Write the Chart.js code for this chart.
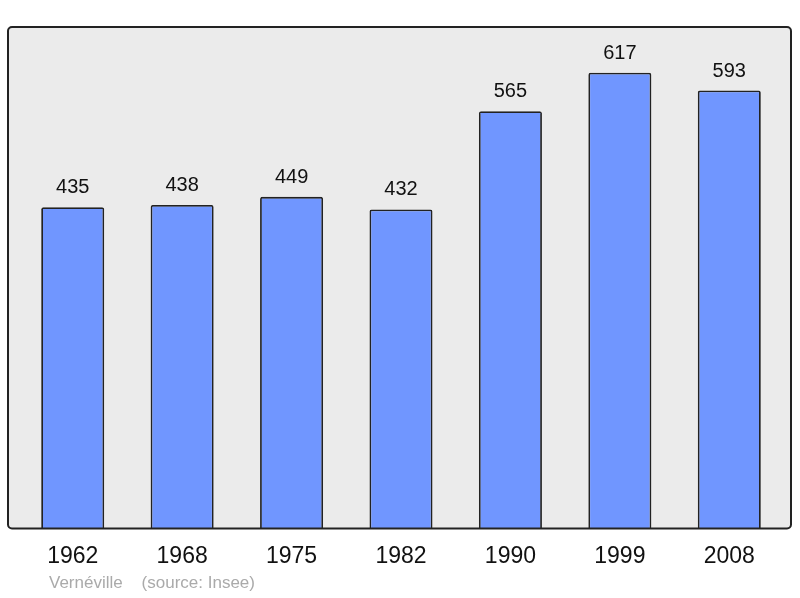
<!DOCTYPE html>
<html>
<head>
<meta charset="utf-8">
<script src="https://cdn.jsdelivr.net/npm/chart.js@4/dist/chart.umd.min.js"></script>
<style>
  html, body { margin: 0; padding: 0; background: #fff; }
  #wrap { width: 800px; height: 598px; position: relative; }
</style>
</head>
<body>
<div id="wrap"><canvas id="popChart"></canvas></div>
<script>
const years = ["1962", "1968", "1975", "1982", "1990", "1999", "2008"];
const population = [435, 438, 449, 432, 565, 617, 593];
const yMax = 679;
const footText = "Vernéville    (source: Insee)";

const FONT = "'Liberation Sans', Arial, sans-serif";

// grey panel with dark rounded border behind the bars
const panelPlugin = {
  id: "panel",
  beforeDraw(chart) {
    const { ctx, chartArea: a } = chart;
    const x0 = a.left - 10, x1 = a.right + 7, y0 = a.top, y1 = a.bottom;
    ctx.save();
    ctx.beginPath();
    ctx.roundRect(x0, y0, x1 - x0, y1 - y0, 4);
    ctx.fillStyle = "#ebebeb";
    ctx.fill();
    ctx.restore();
  },
  afterDatasetsDraw(chart) {
    const { ctx, chartArea: a } = chart;
    const x0 = a.left - 10, x1 = a.right + 7, y0 = a.top, y1 = a.bottom;
    ctx.save();
    ctx.beginPath();
    ctx.roundRect(x0, y0, x1 - x0, y1 - y0, 4);
    ctx.lineWidth = 2;
    ctx.strokeStyle = "#222";
    ctx.stroke();
    // value labels
    const meta = chart.getDatasetMeta(0);
    ctx.fillStyle = "#111";
    ctx.font = "20px " + FONT;
    ctx.textAlign = "center";
    ctx.textBaseline = "alphabetic";
    meta.data.forEach((bar, i) => {
      ctx.fillText(String(population[i]), bar.x, bar.y - 14);
    });
    // source line
    ctx.fillStyle = "#aaa";
    ctx.font = "17px " + FONT;
    ctx.textAlign = "left";
    ctx.textBaseline = "middle";
    ctx.fillText(footText, 49, 583);
    ctx.restore();
  }
};

new Chart(document.getElementById("popChart"), {
  type: "bar",
  data: {
    labels: years,
    datasets: [{
      data: population,
      backgroundColor: "#7096ff",
      borderColor: "#222",
      borderWidth: 1.8,
      borderRadius: 2,
      borderSkipped: "bottom",
      categoryPercentage: 1,
      barPercentage: 0.576
    }]
  },
  options: {
    responsive: true,
    maintainAspectRatio: false,
    animation: false,
    layout: { padding: { left: 18, right: 16, top: 27, bottom: 14 } },
    plugins: { legend: { display: false }, tooltip: { enabled: false } },
    scales: {
      x: {
        grid: { display: false, drawTicks: false },
        border: { display: false },
        ticks: { color: "#111", font: { size: 23, family: FONT }, padding: 14 }
      },
      y: { display: false, min: 0, max: yMax }
    }
  },
  plugins: [panelPlugin]
});
</script>
</body>
</html>
